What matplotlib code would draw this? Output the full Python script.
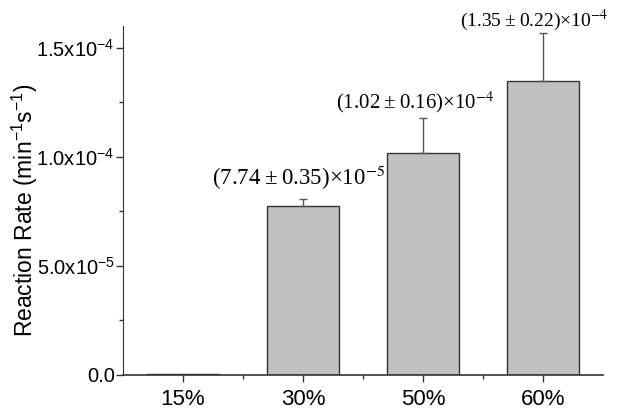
import matplotlib.pyplot as plt
from matplotlib.ticker import FixedLocator, FuncFormatter, MultipleLocator

plt.rcParams['font.family'] = ['Liberation Sans', 'DejaVu Sans']
plt.rcParams['mathtext.fontset'] = 'custom'
plt.rcParams['mathtext.rm'] = 'Liberation Sans'
plt.rcParams['mathtext.it'] = 'Liberation Sans:italic'

categories = ['15%', '30%', '50%', '60%']
rates = [6e-7, 7.74e-5, 1.02e-4, 1.35e-4]
errors = [0.0, 0.35e-5, 0.16e-4, 0.22e-4]
labels = [None,
          '(7.74\u2009\u00b1\u20090.35)\u00d710$^{-5}$',
          '(1.02\u2009\u00b1\u20090.16)\u00d710$^{-4}$',
          '(1.35\u2009\u00b1\u20090.22)\u00d710$^{-4}$']
label_sizes = [0, 16.5, 15, 14]
label_shift = [(0, 0), (-4, 7), (-8, 3), (-9, 0)]

fig = plt.figure(figsize=(6.21, 4.13), dpi=100)
ax = fig.add_axes([123/621, 38/413, 480/621, 349/413])

x = list(range(len(categories)))
ax.bar(x, rates, width=0.6, color='#c0c0c0', edgecolor='#333333', linewidth=1.0)
ax.errorbar(x[1:], rates[1:], yerr=[[0]*3, errors[1:]], fmt='none',
            ecolor='#555555', elinewidth=1.0, capsize=3, capthick=1.0)

for xi, r, e, lab, fs, sh in zip(x, rates, errors, labels, label_sizes, label_shift):
    if lab is None:
        continue
    ax.annotate(lab, (xi, r + e), xytext=sh, textcoords='offset pixels',
                ha='center', va='bottom', fontsize=fs,
                family=['Liberation Serif', 'DejaVu Serif'],
                math_fontfamily='stix', annotation_clip=False)

ax.set_xlim(-0.5, 3.5)
ax.set_ylim(0, 1.6e-4)
ax.set_xticks(x)
ax.set_xticklabels(categories, fontsize=16)
ax.xaxis.set_minor_locator(FixedLocator([0.5, 1.5, 2.5]))
ax.yaxis.set_major_locator(MultipleLocator(5e-5))
ax.yaxis.set_minor_locator(MultipleLocator(2.5e-5))


def fmt(v, pos):
    if abs(v) < 1e-12:
        return '0.0'
    exp = -4 if v >= 1e-4 - 1e-12 else -5
    return r'%.1fx10$^{%d}$' % (v / 10**exp, exp)


ax.yaxis.set_major_formatter(FuncFormatter(fmt))
ax.tick_params(axis='y', labelsize=14.5, pad=1)
ax.tick_params(axis='x', pad=5)
ax.tick_params(which='major', direction='out', length=5, width=1, color='#333333')
ax.tick_params(which='minor', direction='out', length=3, width=1, color='#333333')
ax.spines['top'].set_visible(False)
ax.spines['right'].set_visible(False)
for s in ['left', 'bottom']:
    ax.spines[s].set_color('#333333')
ax.spines['left'].set_linewidth(0.8)
ax.spines['bottom'].set_linewidth(1.2)

ax.set_ylabel(r'Reaction Rate (min$^{-1}$s$^{-1}$)', fontsize=16.5)
ax.yaxis.set_label_coords(-0.173, 0.473)

fig.savefig('out.png', dpi=100)
